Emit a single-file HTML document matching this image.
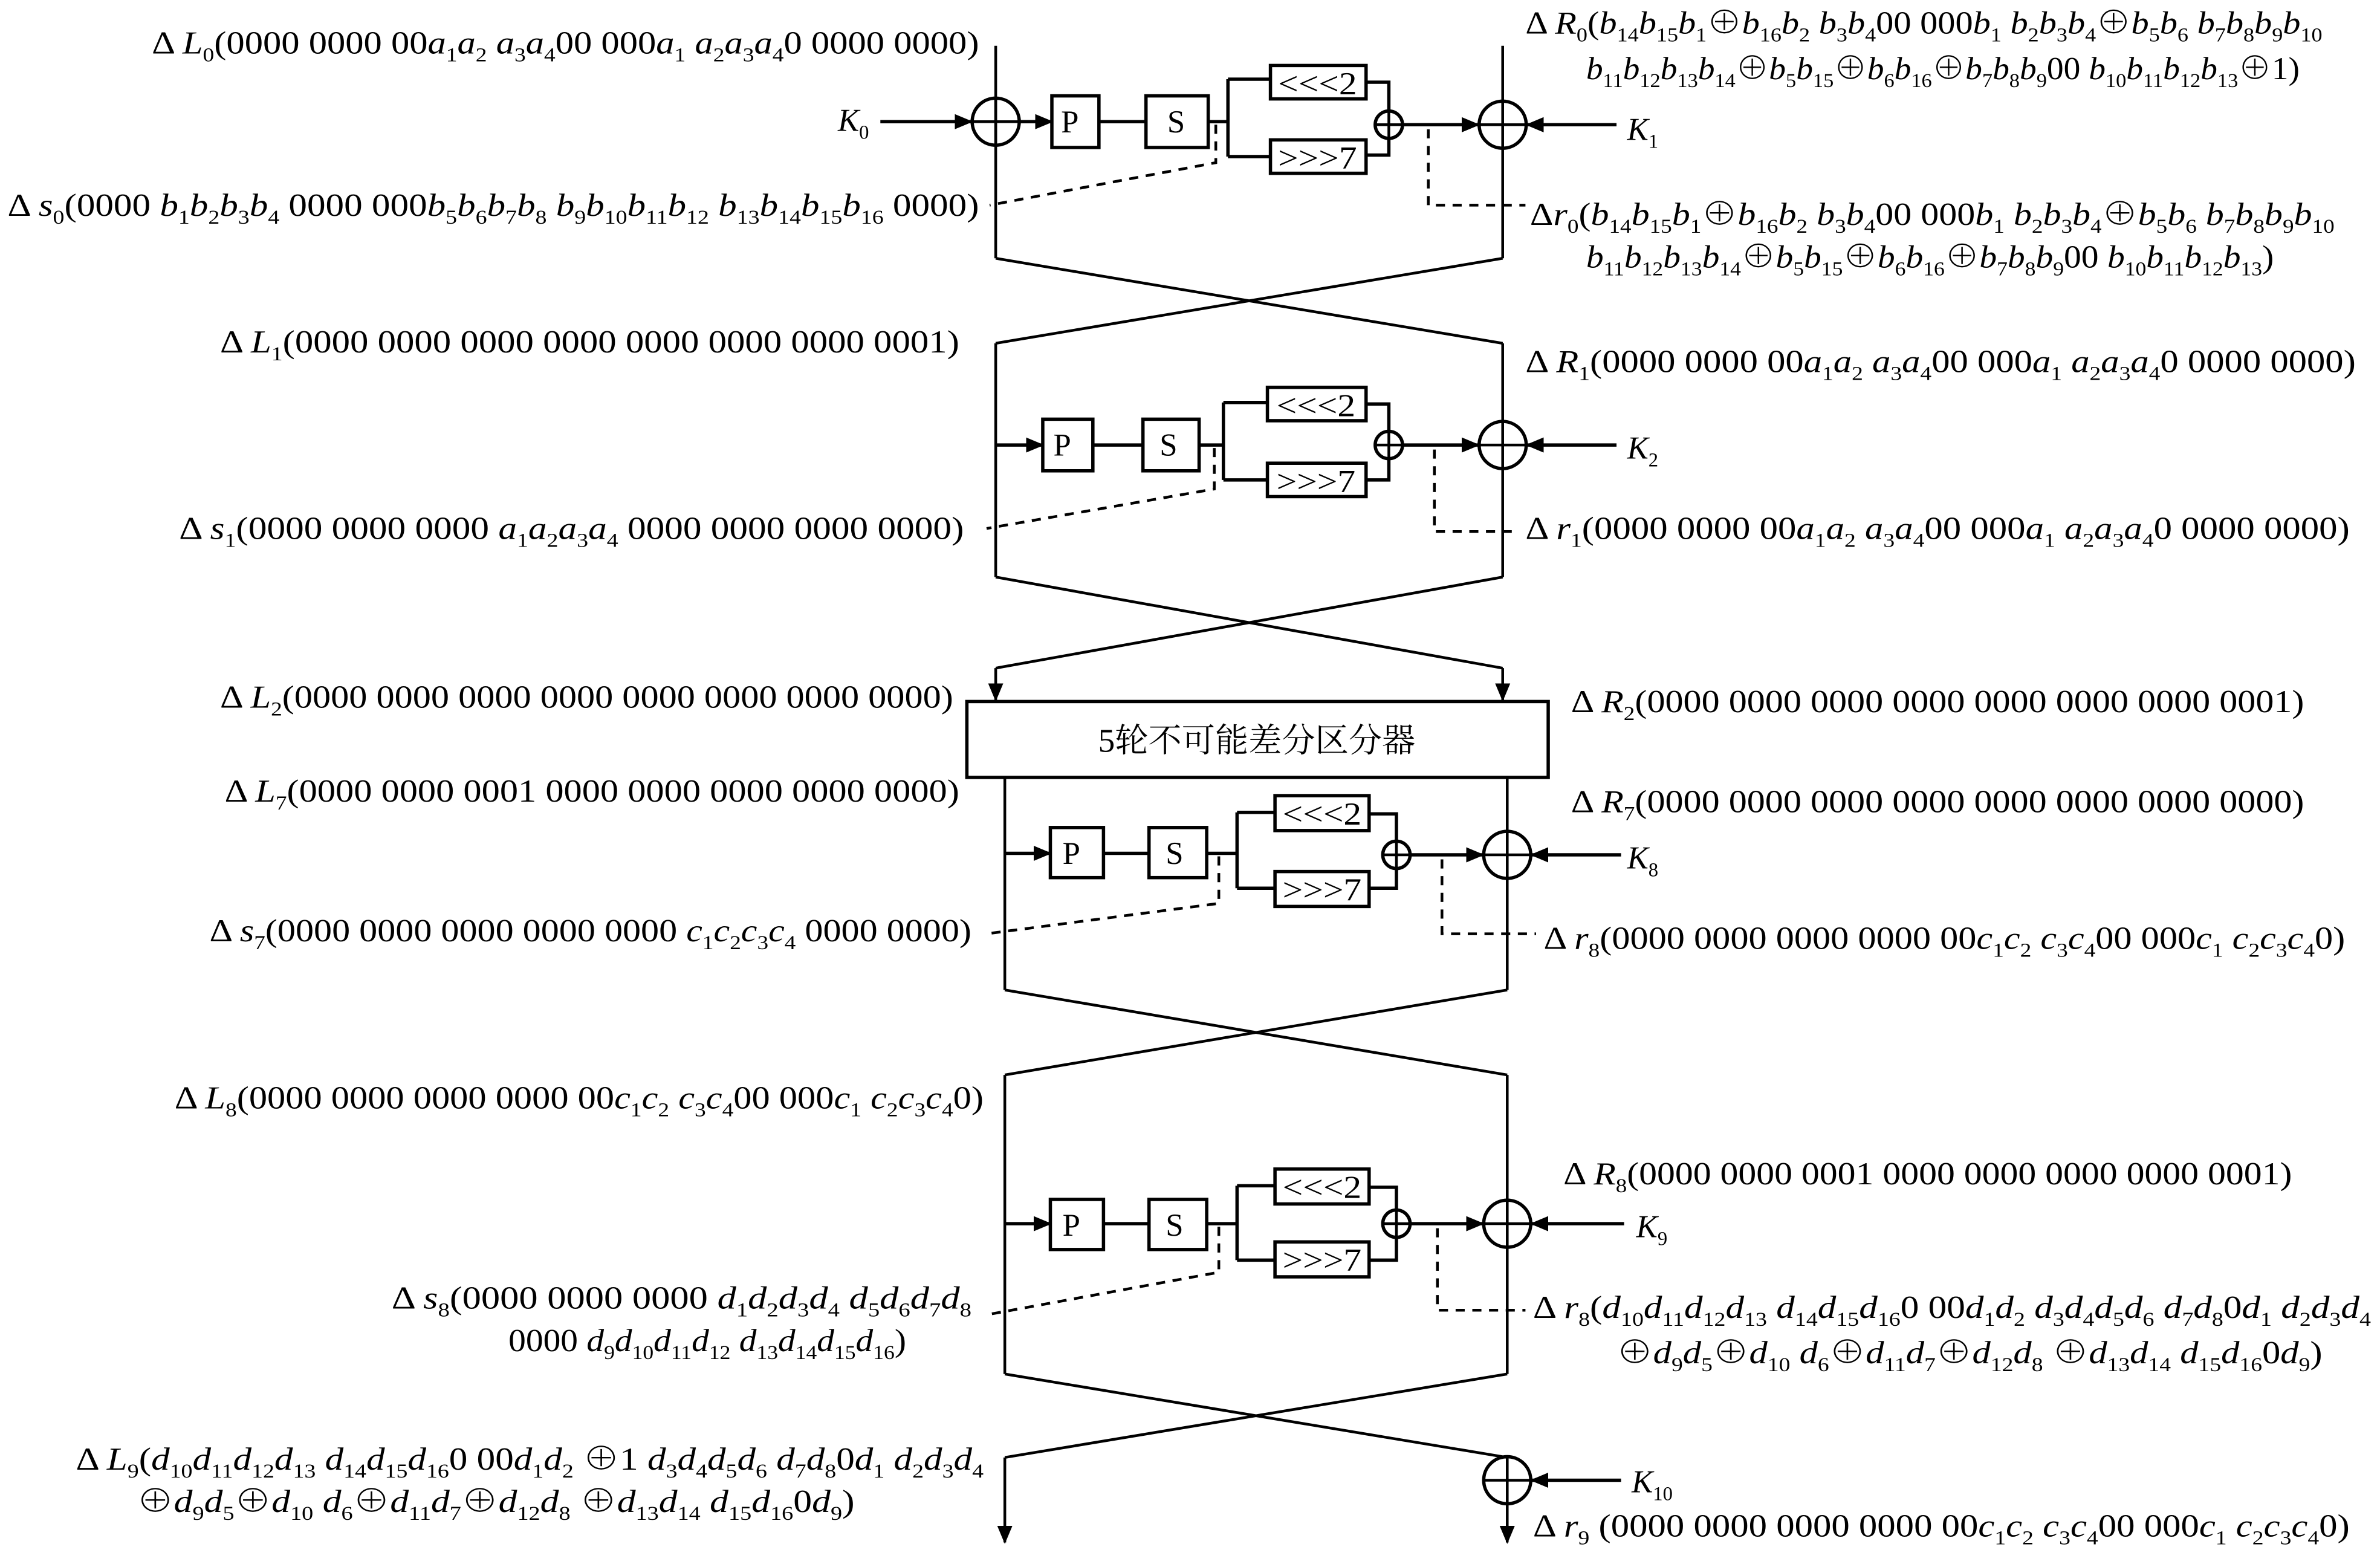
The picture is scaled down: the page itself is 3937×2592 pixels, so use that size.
<!DOCTYPE html>
<html><head><meta charset="utf-8"><style>
html,body{margin:0;padding:0;background:#fff}
svg{display:block}
text{font-family:"Liberation Serif","Noto Serif CJK SC",serif;font-size:21px;fill:#000}
.i{font-style:italic}
.s{font-size:13px;baseline-shift:-5px}
.ln{stroke:#000;stroke-width:1.8;fill:none}
.th{stroke:#000;stroke-width:2.2;fill:none}
.d{stroke:#000;stroke-width:1.8;fill:none;stroke-dasharray:6,5}
</style></head><body>
<svg width="3937" height="2592" viewBox="0 0 1568 1032" xmlns="http://www.w3.org/2000/svg">
<defs>
<marker id="a" markerWidth="12" markerHeight="10" refX="11" refY="5" orient="auto" markerUnits="userSpaceOnUse"><path d="M0,0 L12,5 L0,10 Z" fill="#000"/></marker>
<g id="x"><circle r="15.5" class="th" fill="#fff"/><line x1="-15.5" y1="0" x2="15.5" y2="0" class="ln"/><line x1="0" y1="-15.5" x2="0" y2="15.5" class="ln"/></g>
<g id="sx"><circle r="9" class="th" fill="#fff"/><line x1="-9" y1="0" x2="9" y2="0" class="ln"/><line x1="0" y1="-9" x2="0" y2="9" class="ln"/></g>
</defs>

<!-- Round 0 -->
<line x1="656" y1="30" x2="656" y2="170" class="ln"/>
<line x1="990" y1="30" x2="990" y2="170" class="ln"/>
<line x1="580" y1="80" x2="640" y2="80" class="th" marker-end="url(#a)"/>
<use href="#x" x="656" y="80"/>
<line x1="672" y1="80" x2="693" y2="80" class="th" marker-end="url(#a)"/>
<rect x="693" y="63" width="31" height="34" class="th"/><text x="699" y="87">P</text>
<line x1="724" y1="80" x2="755" y2="80" class="th"/>
<rect x="755" y="63" width="41" height="34" class="th"/><text x="769" y="87">S</text>
<path d="M796,80 H809 M809,52 V103 M809,52 H837 M809,103 H837" class="th"/>
<rect x="837" y="43" width="63" height="22" class="th"/><text x="842" y="62" textLength="52" lengthAdjust="spacingAndGlyphs">&lt;&lt;&lt;2</text>
<rect x="837" y="92" width="63" height="22" class="th"/><text x="842" y="111" textLength="52" lengthAdjust="spacingAndGlyphs">&gt;&gt;&gt;7</text>
<path d="M900,54 H915 V73 M900,102 H915 V91" class="th"/>
<use href="#sx" x="915" y="82"/>
<line x1="924" y1="82" x2="974" y2="82" class="th" marker-end="url(#a)"/>
<use href="#x" x="990" y="82"/>
<line x1="1065" y1="82" x2="1006" y2="82" class="th" marker-end="url(#a)"/>
<path d="M801,82 V107 L652,135" class="d"/>
<path d="M941,85 V135 H1005" class="d"/>
<path d="M656,170 L990,226 M990,170 L656,226" class="ln"/>

<!-- Round 1 -->
<line x1="656" y1="226" x2="656" y2="380" class="ln"/>
<line x1="990" y1="226" x2="990" y2="380" class="ln"/>
<line x1="656" y1="293" x2="687" y2="293" class="th" marker-end="url(#a)"/>
<rect x="687" y="276" width="33" height="34" class="th"/><text x="694" y="300">P</text>
<line x1="720" y1="293" x2="753" y2="293" class="th"/>
<rect x="753" y="276" width="37" height="34" class="th"/><text x="764" y="300">S</text>
<path d="M790,293 H806 M806,265 V316 M806,265 H835 M806,316 H835" class="th"/>
<rect x="835" y="255" width="65" height="22" class="th"/><text x="841" y="274" textLength="52" lengthAdjust="spacingAndGlyphs">&lt;&lt;&lt;2</text>
<rect x="835" y="305" width="65" height="22" class="th"/><text x="841" y="324" textLength="52" lengthAdjust="spacingAndGlyphs">&gt;&gt;&gt;7</text>
<path d="M900,266 H915 V284 M900,316 H915 V302" class="th"/>
<use href="#sx" x="915" y="293"/>
<line x1="924" y1="293" x2="974" y2="293" class="th" marker-end="url(#a)"/>
<use href="#x" x="990" y="293"/>
<line x1="1065" y1="293" x2="1006" y2="293" class="th" marker-end="url(#a)"/>
<path d="M800,295 V322 L650,348" class="d"/>
<path d="M945,296 V350 H1000" class="d"/>
<path d="M656,380 L990,440 M990,380 L656,440" class="ln"/>
<line x1="656" y1="440" x2="656" y2="461" class="ln" marker-end="url(#a)"/>
<line x1="990" y1="440" x2="990" y2="461" class="ln" marker-end="url(#a)"/>

<rect x="637" y="462" width="383" height="50" class="th"/>
<text x="828" y="495" text-anchor="middle" style="font-size:22px">5轮不可能差分区分器</text>

<!-- Round 7 -->
<line x1="662" y1="512" x2="662" y2="652" class="ln"/>
<line x1="993" y1="512" x2="993" y2="652" class="ln"/>
<line x1="662" y1="562" x2="692" y2="562" class="th" marker-end="url(#a)"/>
<rect x="692" y="545" width="35" height="33" class="th"/><text x="700" y="569">P</text>
<line x1="727" y1="562" x2="757" y2="562" class="th"/>
<rect x="757" y="545" width="38" height="33" class="th"/><text x="768" y="569">S</text>
<path d="M795,562 H815 M815,535 V585 M815,535 H840 M815,585 H840" class="th"/>
<rect x="840" y="524" width="62" height="23" class="th"/><text x="845" y="543" textLength="52" lengthAdjust="spacingAndGlyphs">&lt;&lt;&lt;2</text>
<rect x="840" y="574" width="62" height="23" class="th"/><text x="845" y="593" textLength="52" lengthAdjust="spacingAndGlyphs">&gt;&gt;&gt;7</text>
<path d="M902,536 H920 V554 M902,585 H920 V572" class="th"/>
<use href="#sx" x="920" y="563"/>
<line x1="929" y1="563" x2="977" y2="563" class="th" marker-end="url(#a)"/>
<use href="#x" x="993" y="563"/>
<line x1="1068" y1="563" x2="1009" y2="563" class="th" marker-end="url(#a)"/>
<path d="M803,564 V595 L650,615" class="d"/>
<path d="M950,566 V615 H1012" class="d"/>
<path d="M662,652 L993,708 M993,652 L662,708" class="ln"/>

<!-- Round 8 -->
<line x1="662" y1="708" x2="662" y2="905" class="ln"/>
<line x1="993" y1="708" x2="993" y2="905" class="ln"/>
<line x1="662" y1="806" x2="692" y2="806" class="th" marker-end="url(#a)"/>
<rect x="692" y="790" width="35" height="33" class="th"/><text x="700" y="814">P</text>
<line x1="727" y1="806" x2="757" y2="806" class="th"/>
<rect x="757" y="790" width="38" height="33" class="th"/><text x="768" y="814">S</text>
<path d="M795,806 H815 M815,781 V830 M815,781 H840 M815,830 H840" class="th"/>
<rect x="840" y="770" width="62" height="23" class="th"/><text x="845" y="789" textLength="52" lengthAdjust="spacingAndGlyphs">&lt;&lt;&lt;2</text>
<rect x="840" y="818" width="62" height="23" class="th"/><text x="845" y="837" textLength="52" lengthAdjust="spacingAndGlyphs">&gt;&gt;&gt;7</text>
<path d="M902,782 H920 V797 M902,830 H920 V815" class="th"/>
<use href="#sx" x="920" y="806"/>
<line x1="929" y1="806" x2="977" y2="806" class="th" marker-end="url(#a)"/>
<use href="#x" x="993" y="806"/>
<line x1="1070" y1="806" x2="1009" y2="806" class="th" marker-end="url(#a)"/>
<path d="M803,808 V838 L650,866" class="d"/>
<path d="M947,809 V863 H1005" class="d"/>
<path d="M662,905 L993,960 M993,905 L662,960" class="ln"/>
<line x1="662" y1="960" x2="662" y2="1016" class="ln" marker-end="url(#a)"/>
<line x1="993" y1="960" x2="993" y2="1016" class="ln" marker-end="url(#a)"/>
<use href="#x" x="993" y="975"/>
<line x1="1068" y1="975" x2="1009" y2="975" class="th" marker-end="url(#a)"/>

<!-- Keys -->
<text x="552" y="86"><tspan class="i">K</tspan><tspan class="s">0</tspan></text>
<text x="1072" y="92"><tspan class="i">K</tspan><tspan class="s">1</tspan></text>
<text x="1072" y="302"><tspan class="i">K</tspan><tspan class="s">2</tspan></text>
<text x="1072" y="572"><tspan class="i">K</tspan><tspan class="s">8</tspan></text>
<text x="1078" y="815"><tspan class="i">K</tspan><tspan class="s">9</tspan></text>
<text x="1075" y="983"><tspan class="i">K</tspan><tspan class="s">10</tspan></text>

<!-- Labels -->
<text x="100" y="35" textLength="545" lengthAdjust="spacingAndGlyphs">Δ <tspan class="i">L</tspan><tspan class="s">0</tspan>(0000 0000 00<tspan class="i">a</tspan><tspan class="s">1</tspan><tspan class="i">a</tspan><tspan class="s">2</tspan>  <tspan class="i">a</tspan><tspan class="s">3</tspan><tspan class="i">a</tspan><tspan class="s">4</tspan>00 000<tspan class="i">a</tspan><tspan class="s">1</tspan> <tspan class="i">a</tspan><tspan class="s">2</tspan><tspan class="i">a</tspan><tspan class="s">3</tspan><tspan class="i">a</tspan><tspan class="s">4</tspan>0 0000 0000)</text>

<text x="1005" y="22" textLength="525" lengthAdjust="spacingAndGlyphs">Δ <tspan class="i">R</tspan><tspan class="s">0</tspan>(<tspan class="i">b</tspan><tspan class="s">14</tspan><tspan class="i">b</tspan><tspan class="s">15</tspan><tspan class="i">b</tspan><tspan class="s">1</tspan>⊕<tspan class="i">b</tspan><tspan class="s">16</tspan><tspan class="i">b</tspan><tspan class="s">2</tspan> <tspan class="i">b</tspan><tspan class="s">3</tspan><tspan class="i">b</tspan><tspan class="s">4</tspan>00  000<tspan class="i">b</tspan><tspan class="s">1</tspan> <tspan class="i">b</tspan><tspan class="s">2</tspan><tspan class="i">b</tspan><tspan class="s">3</tspan><tspan class="i">b</tspan><tspan class="s">4</tspan>⊕<tspan class="i">b</tspan><tspan class="s">5</tspan><tspan class="i">b</tspan><tspan class="s">6</tspan> <tspan class="i">b</tspan><tspan class="s">7</tspan><tspan class="i">b</tspan><tspan class="s">8</tspan><tspan class="i">b</tspan><tspan class="s">9</tspan><tspan class="i">b</tspan><tspan class="s">10</tspan></text>
<text x="1045" y="52" textLength="470" lengthAdjust="spacingAndGlyphs"><tspan class="i">b</tspan><tspan class="s">11</tspan><tspan class="i">b</tspan><tspan class="s">12</tspan><tspan class="i">b</tspan><tspan class="s">13</tspan><tspan class="i">b</tspan><tspan class="s">14</tspan>⊕<tspan class="i">b</tspan><tspan class="s">5</tspan><tspan class="i">b</tspan><tspan class="s">15</tspan>⊕<tspan class="i">b</tspan><tspan class="s">6</tspan><tspan class="i">b</tspan><tspan class="s">16</tspan>⊕<tspan class="i">b</tspan><tspan class="s">7</tspan><tspan class="i">b</tspan><tspan class="s">8</tspan><tspan class="i">b</tspan><tspan class="s">9</tspan>00 <tspan class="i">b</tspan><tspan class="s">10</tspan><tspan class="i">b</tspan><tspan class="s">11</tspan><tspan class="i">b</tspan><tspan class="s">12</tspan><tspan class="i">b</tspan><tspan class="s">13</tspan>⊕1)</text>

<text x="5" y="142" textLength="640" lengthAdjust="spacingAndGlyphs">Δ <tspan class="i">s</tspan><tspan class="s">0</tspan>(0000 <tspan class="i">b</tspan><tspan class="s">1</tspan><tspan class="i">b</tspan><tspan class="s">2</tspan><tspan class="i">b</tspan><tspan class="s">3</tspan><tspan class="i">b</tspan><tspan class="s">4</tspan> 0000 000<tspan class="i">b</tspan><tspan class="s">5</tspan><tspan class="i">b</tspan><tspan class="s">6</tspan><tspan class="i">b</tspan><tspan class="s">7</tspan><tspan class="i">b</tspan><tspan class="s">8</tspan> <tspan class="i">b</tspan><tspan class="s">9</tspan><tspan class="i">b</tspan><tspan class="s">10</tspan><tspan class="i">b</tspan><tspan class="s">11</tspan><tspan class="i">b</tspan><tspan class="s">12</tspan> <tspan class="i">b</tspan><tspan class="s">13</tspan><tspan class="i">b</tspan><tspan class="s">14</tspan><tspan class="i">b</tspan><tspan class="s">15</tspan><tspan class="i">b</tspan><tspan class="s">16</tspan> 0000)</text>

<text x="1008" y="148" textLength="530" lengthAdjust="spacingAndGlyphs">Δ<tspan class="i">r</tspan><tspan class="s">0</tspan>(<tspan class="i">b</tspan><tspan class="s">14</tspan><tspan class="i">b</tspan><tspan class="s">15</tspan><tspan class="i">b</tspan><tspan class="s">1</tspan>⊕<tspan class="i">b</tspan><tspan class="s">16</tspan><tspan class="i">b</tspan><tspan class="s">2</tspan> <tspan class="i">b</tspan><tspan class="s">3</tspan><tspan class="i">b</tspan><tspan class="s">4</tspan>00  000<tspan class="i">b</tspan><tspan class="s">1</tspan> <tspan class="i">b</tspan><tspan class="s">2</tspan><tspan class="i">b</tspan><tspan class="s">3</tspan><tspan class="i">b</tspan><tspan class="s">4</tspan>⊕<tspan class="i">b</tspan><tspan class="s">5</tspan><tspan class="i">b</tspan><tspan class="s">6</tspan> <tspan class="i">b</tspan><tspan class="s">7</tspan><tspan class="i">b</tspan><tspan class="s">8</tspan><tspan class="i">b</tspan><tspan class="s">9</tspan><tspan class="i">b</tspan><tspan class="s">10</tspan></text>
<text x="1045" y="176" textLength="453" lengthAdjust="spacingAndGlyphs"><tspan class="i">b</tspan><tspan class="s">11</tspan><tspan class="i">b</tspan><tspan class="s">12</tspan><tspan class="i">b</tspan><tspan class="s">13</tspan><tspan class="i">b</tspan><tspan class="s">14</tspan>⊕<tspan class="i">b</tspan><tspan class="s">5</tspan><tspan class="i">b</tspan><tspan class="s">15</tspan>⊕<tspan class="i">b</tspan><tspan class="s">6</tspan><tspan class="i">b</tspan><tspan class="s">16</tspan>⊕<tspan class="i">b</tspan><tspan class="s">7</tspan><tspan class="i">b</tspan><tspan class="s">8</tspan><tspan class="i">b</tspan><tspan class="s">9</tspan>00 <tspan class="i">b</tspan><tspan class="s">10</tspan><tspan class="i">b</tspan><tspan class="s">11</tspan><tspan class="i">b</tspan><tspan class="s">12</tspan><tspan class="i">b</tspan><tspan class="s">13</tspan>)</text>

<text x="145" y="232" textLength="487" lengthAdjust="spacingAndGlyphs">Δ <tspan class="i">L</tspan><tspan class="s">1</tspan>(0000 0000 0000 0000 0000 0000 0000 0001)</text>

<text x="1005" y="245" textLength="547" lengthAdjust="spacingAndGlyphs">Δ <tspan class="i">R</tspan><tspan class="s">1</tspan>(0000 0000 00<tspan class="i">a</tspan><tspan class="s">1</tspan><tspan class="i">a</tspan><tspan class="s">2</tspan>  <tspan class="i">a</tspan><tspan class="s">3</tspan><tspan class="i">a</tspan><tspan class="s">4</tspan>00 000<tspan class="i">a</tspan><tspan class="s">1</tspan>  <tspan class="i">a</tspan><tspan class="s">2</tspan><tspan class="i">a</tspan><tspan class="s">3</tspan><tspan class="i">a</tspan><tspan class="s">4</tspan>0 0000 0000)</text>

<text x="118" y="355" textLength="517" lengthAdjust="spacingAndGlyphs">Δ <tspan class="i">s</tspan><tspan class="s">1</tspan>(0000 0000 0000 <tspan class="i">a</tspan><tspan class="s">1</tspan><tspan class="i">a</tspan><tspan class="s">2</tspan><tspan class="i">a</tspan><tspan class="s">3</tspan><tspan class="i">a</tspan><tspan class="s">4</tspan>  0000 0000 0000 0000)</text>

<text x="1005" y="355" textLength="543" lengthAdjust="spacingAndGlyphs">Δ <tspan class="i">r</tspan><tspan class="s">1</tspan>(0000 0000 00<tspan class="i">a</tspan><tspan class="s">1</tspan><tspan class="i">a</tspan><tspan class="s">2</tspan>  <tspan class="i">a</tspan><tspan class="s">3</tspan><tspan class="i">a</tspan><tspan class="s">4</tspan>00 000<tspan class="i">a</tspan><tspan class="s">1</tspan>  <tspan class="i">a</tspan><tspan class="s">2</tspan><tspan class="i">a</tspan><tspan class="s">3</tspan><tspan class="i">a</tspan><tspan class="s">4</tspan>0 0000 0000)</text>

<text x="145" y="466" textLength="483" lengthAdjust="spacingAndGlyphs">Δ <tspan class="i">L</tspan><tspan class="s">2</tspan>(0000 0000 0000 0000 0000 0000 0000 0000)</text>
<text x="1035" y="469" textLength="483" lengthAdjust="spacingAndGlyphs">Δ <tspan class="i">R</tspan><tspan class="s">2</tspan>(0000 0000 0000 0000 0000 0000 0000 0001)</text>
<text x="148" y="528" textLength="484" lengthAdjust="spacingAndGlyphs">Δ <tspan class="i">L</tspan><tspan class="s">7</tspan>(0000 0000 0001 0000 0000 0000 0000 0000)</text>
<text x="1035" y="535" textLength="483" lengthAdjust="spacingAndGlyphs">Δ <tspan class="i">R</tspan><tspan class="s">7</tspan>(0000 0000 0000 0000 0000 0000 0000 0000)</text>

<text x="138" y="620" textLength="502" lengthAdjust="spacingAndGlyphs">Δ <tspan class="i">s</tspan><tspan class="s">7</tspan>(0000 0000 0000 0000 0000 <tspan class="i">c</tspan><tspan class="s">1</tspan><tspan class="i">c</tspan><tspan class="s">2</tspan><tspan class="i">c</tspan><tspan class="s">3</tspan><tspan class="i">c</tspan><tspan class="s">4</tspan>  0000 0000)</text>

<text x="1017" y="625" textLength="528" lengthAdjust="spacingAndGlyphs">Δ <tspan class="i">r</tspan><tspan class="s">8</tspan>(0000 0000 0000 0000 00<tspan class="i">c</tspan><tspan class="s">1</tspan><tspan class="i">c</tspan><tspan class="s">2</tspan> <tspan class="i">c</tspan><tspan class="s">3</tspan><tspan class="i">c</tspan><tspan class="s">4</tspan>00 000<tspan class="i">c</tspan><tspan class="s">1</tspan> <tspan class="i">c</tspan><tspan class="s">2</tspan><tspan class="i">c</tspan><tspan class="s">3</tspan><tspan class="i">c</tspan><tspan class="s">4</tspan>0)</text>

<text x="115" y="730" textLength="533" lengthAdjust="spacingAndGlyphs">Δ <tspan class="i">L</tspan><tspan class="s">8</tspan>(0000 0000 0000 0000 00<tspan class="i">c</tspan><tspan class="s">1</tspan><tspan class="i">c</tspan><tspan class="s">2</tspan> <tspan class="i">c</tspan><tspan class="s">3</tspan><tspan class="i">c</tspan><tspan class="s">4</tspan>00 000<tspan class="i">c</tspan><tspan class="s">1</tspan> <tspan class="i">c</tspan><tspan class="s">2</tspan><tspan class="i">c</tspan><tspan class="s">3</tspan><tspan class="i">c</tspan><tspan class="s">4</tspan>0)</text>

<text x="1030" y="780" textLength="480" lengthAdjust="spacingAndGlyphs">Δ <tspan class="i">R</tspan><tspan class="s">8</tspan>(0000 0000 0001 0000 0000 0000 0000 0001)</text>

<text x="258" y="862" textLength="382" lengthAdjust="spacingAndGlyphs">Δ <tspan class="i">s</tspan><tspan class="s">8</tspan>(0000 0000 0000 <tspan class="i">d</tspan><tspan class="s">1</tspan><tspan class="i">d</tspan><tspan class="s">2</tspan><tspan class="i">d</tspan><tspan class="s">3</tspan><tspan class="i">d</tspan><tspan class="s">4</tspan>  <tspan class="i">d</tspan><tspan class="s">5</tspan><tspan class="i">d</tspan><tspan class="s">6</tspan><tspan class="i">d</tspan><tspan class="s">7</tspan><tspan class="i">d</tspan><tspan class="s">8</tspan></text>
<text x="335" y="890" textLength="262" lengthAdjust="spacingAndGlyphs">0000  <tspan class="i">d</tspan><tspan class="s">9</tspan><tspan class="i">d</tspan><tspan class="s">10</tspan><tspan class="i">d</tspan><tspan class="s">11</tspan><tspan class="i">d</tspan><tspan class="s">12</tspan>  <tspan class="i">d</tspan><tspan class="s">13</tspan><tspan class="i">d</tspan><tspan class="s">14</tspan><tspan class="i">d</tspan><tspan class="s">15</tspan><tspan class="i">d</tspan><tspan class="s">16</tspan>)</text>

<text x="1010" y="868" textLength="552" lengthAdjust="spacingAndGlyphs">Δ <tspan class="i">r</tspan><tspan class="s">8</tspan>(<tspan class="i">d</tspan><tspan class="s">10</tspan><tspan class="i">d</tspan><tspan class="s">11</tspan><tspan class="i">d</tspan><tspan class="s">12</tspan><tspan class="i">d</tspan><tspan class="s">13</tspan> <tspan class="i">d</tspan><tspan class="s">14</tspan><tspan class="i">d</tspan><tspan class="s">15</tspan><tspan class="i">d</tspan><tspan class="s">16</tspan>0  00<tspan class="i">d</tspan><tspan class="s">1</tspan><tspan class="i">d</tspan><tspan class="s">2</tspan> <tspan class="i">d</tspan><tspan class="s">3</tspan><tspan class="i">d</tspan><tspan class="s">4</tspan><tspan class="i">d</tspan><tspan class="s">5</tspan><tspan class="i">d</tspan><tspan class="s">6</tspan> <tspan class="i">d</tspan><tspan class="s">7</tspan><tspan class="i">d</tspan><tspan class="s">8</tspan>0<tspan class="i">d</tspan><tspan class="s">1</tspan> <tspan class="i">d</tspan><tspan class="s">2</tspan><tspan class="i">d</tspan><tspan class="s">3</tspan><tspan class="i">d</tspan><tspan class="s">4</tspan></text>
<text x="1065" y="898" textLength="465" lengthAdjust="spacingAndGlyphs">⊕<tspan class="i">d</tspan><tspan class="s">9</tspan><tspan class="i">d</tspan><tspan class="s">5</tspan>⊕<tspan class="i">d</tspan><tspan class="s">10</tspan> <tspan class="i">d</tspan><tspan class="s">6</tspan>⊕<tspan class="i">d</tspan><tspan class="s">11</tspan><tspan class="i">d</tspan><tspan class="s">7</tspan>⊕<tspan class="i">d</tspan><tspan class="s">12</tspan><tspan class="i">d</tspan><tspan class="s">8</tspan> ⊕<tspan class="i">d</tspan><tspan class="s">13</tspan><tspan class="i">d</tspan><tspan class="s">14</tspan> <tspan class="i">d</tspan><tspan class="s">15</tspan><tspan class="i">d</tspan><tspan class="s">16</tspan>0<tspan class="i">d</tspan><tspan class="s">9</tspan>)</text>

<text x="50" y="968" textLength="598" lengthAdjust="spacingAndGlyphs">Δ <tspan class="i">L</tspan><tspan class="s">9</tspan>(<tspan class="i">d</tspan><tspan class="s">10</tspan><tspan class="i">d</tspan><tspan class="s">11</tspan><tspan class="i">d</tspan><tspan class="s">12</tspan><tspan class="i">d</tspan><tspan class="s">13</tspan>  <tspan class="i">d</tspan><tspan class="s">14</tspan><tspan class="i">d</tspan><tspan class="s">15</tspan><tspan class="i">d</tspan><tspan class="s">16</tspan>0  00<tspan class="i">d</tspan><tspan class="s">1</tspan><tspan class="i">d</tspan><tspan class="s">2</tspan> ⊕1 <tspan class="i">d</tspan><tspan class="s">3</tspan><tspan class="i">d</tspan><tspan class="s">4</tspan><tspan class="i">d</tspan><tspan class="s">5</tspan><tspan class="i">d</tspan><tspan class="s">6</tspan>  <tspan class="i">d</tspan><tspan class="s">7</tspan><tspan class="i">d</tspan><tspan class="s">8</tspan>0<tspan class="i">d</tspan><tspan class="s">1</tspan>  <tspan class="i">d</tspan><tspan class="s">2</tspan><tspan class="i">d</tspan><tspan class="s">3</tspan><tspan class="i">d</tspan><tspan class="s">4</tspan></text>
<text x="90" y="996" textLength="473" lengthAdjust="spacingAndGlyphs">⊕<tspan class="i">d</tspan><tspan class="s">9</tspan><tspan class="i">d</tspan><tspan class="s">5</tspan>⊕<tspan class="i">d</tspan><tspan class="s">10</tspan>  <tspan class="i">d</tspan><tspan class="s">6</tspan>⊕<tspan class="i">d</tspan><tspan class="s">11</tspan><tspan class="i">d</tspan><tspan class="s">7</tspan>⊕<tspan class="i">d</tspan><tspan class="s">12</tspan><tspan class="i">d</tspan><tspan class="s">8</tspan> ⊕<tspan class="i">d</tspan><tspan class="s">13</tspan><tspan class="i">d</tspan><tspan class="s">14</tspan>  <tspan class="i">d</tspan><tspan class="s">15</tspan><tspan class="i">d</tspan><tspan class="s">16</tspan>0<tspan class="i">d</tspan><tspan class="s">9</tspan>)</text>

<text x="1010" y="1012" textLength="538" lengthAdjust="spacingAndGlyphs">Δ <tspan class="i">r</tspan><tspan class="s">9</tspan> (0000 0000 0000 0000 00<tspan class="i">c</tspan><tspan class="s">1</tspan><tspan class="i">c</tspan><tspan class="s">2</tspan>  <tspan class="i">c</tspan><tspan class="s">3</tspan><tspan class="i">c</tspan><tspan class="s">4</tspan>00 000<tspan class="i">c</tspan><tspan class="s">1</tspan>  <tspan class="i">c</tspan><tspan class="s">2</tspan><tspan class="i">c</tspan><tspan class="s">3</tspan><tspan class="i">c</tspan><tspan class="s">4</tspan>0)</text>
</svg>
</body></html>
